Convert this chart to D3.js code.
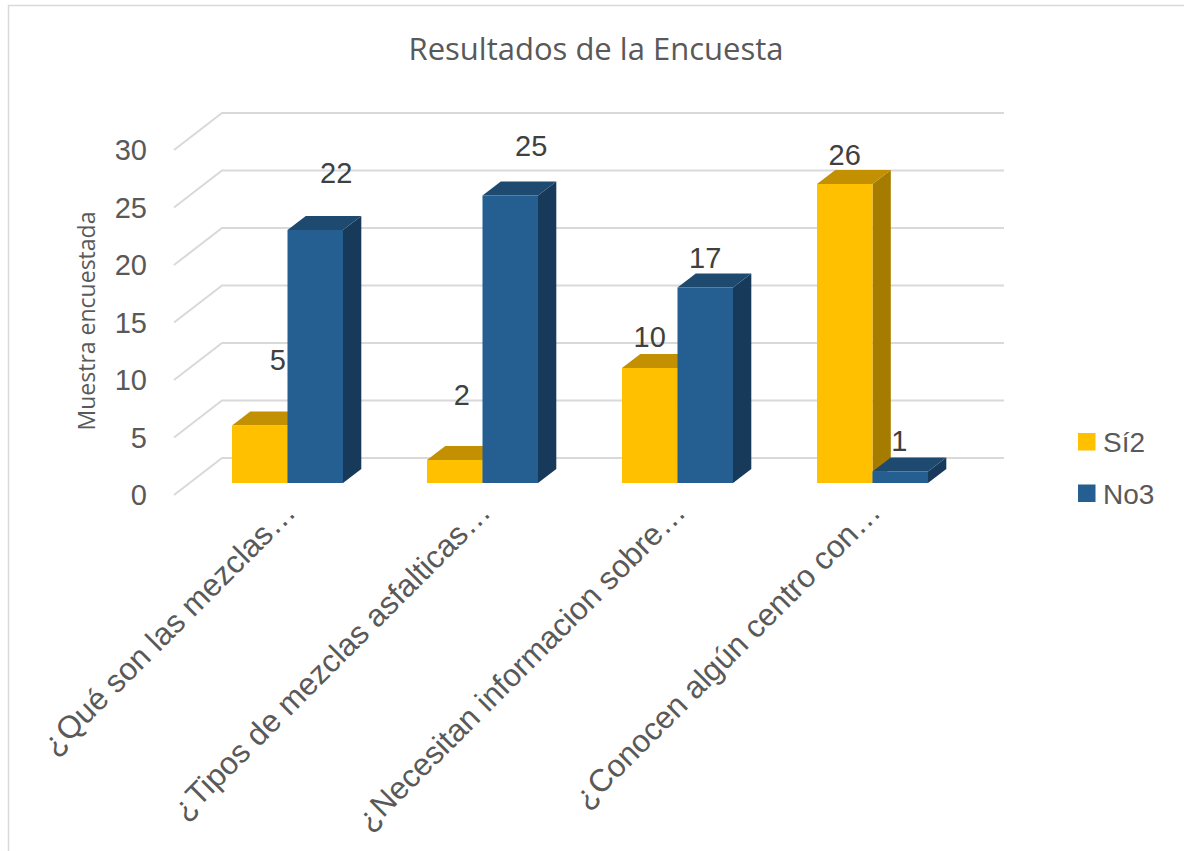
<!DOCTYPE html>
<html><head><meta charset="utf-8">
<script src="https://cdn.jsdelivr.net/npm/d3@7"></script>
<style>html,body{margin:0;padding:0;background:#fff;overflow:hidden}</style>
</head><body>
<svg id="chart" width="1184" height="851"></svg>
<script>
const categories = ["¿Qué son las mezclas…", "¿Tipos de mezclas asfalticas…", "¿Necesitan informacion sobre…", "¿Conocen algún centro con…"];
const seriesNames = ["Sí2", "No3"];
const siValues = [5, 2, 10, 26];
const noValues = [22, 25, 17, 1];
const yTicks = [0, 5, 10, 15, 20, 25, 30];
const chartTitle = "Resultados de la Encuesta";
const yTitle = "Muestra encuestada";

// styling only: label nudges (Excel 3D label placement)
const labelShift = [
  [[18, -66], [21, -57]],
  [[7, -65], [21, -50]],
  [[0, -31], [0, -30]],
  [[0, -29], [-1, -31]]
];

const svg = d3.select("#chart");
svg.append("rect").attr("x", 0).attr("y", 0).attr("width", 1184).attr("height", 851).attr("fill", "#fff");
svg.append("rect").attr("x", 8.5).attr("y", 5.5).attr("width", 1300).attr("height", 1000)
  .attr("fill", "none").attr("stroke", "#d9d9d9").attr("stroke-width", 1.5);

const colors = {
  "Sí2": {front: "#FFC000", top: "#C29000", side: "#A67C00"},
  "No3": {front: "#255E91", top: "#1E4A70", side: "#183A5A"}
};

const x = d3.scaleBand().domain(categories).range([190, 970]).paddingInner(0.4308).paddingOuter(0.2154);
const xs = d3.scaleBand().domain(seriesNames).range([0, x.bandwidth()]);
const y = d3.scaleLinear().domain([0, 30]).range([483, 138]);
const yWall = d3.scaleLinear().domain([0, 30]).range([495, 150]);
const wallDx = 48, wallDy = -37, wallRight = 1004;
const bdx = 18.3, bdy = -14;

// gridlines (side wall diagonal + back wall horizontal)
const grid = svg.append("g");
yTicks.forEach(v => {
  const y0 = yWall(v);
  grid.append("path")
    .attr("d", `M174,${y0} L${174 + wallDx},${y0 + wallDy} L${wallRight},${y0 + wallDy}`)
    .attr("fill", "none").attr("stroke", "#d9d9d9").attr("stroke-width", 2);
});

// tick labels
svg.append("g").selectAll("text").data(yTicks).join("text")
  .attr("x", 147).attr("y", d => yWall(d)).attr("dy", "0.36em")
  .attr("text-anchor", "end").attr("font-family", "Liberation Sans, Arial, sans-serif")
  .attr("font-size", 29).attr("fill", "#595959").text(d => d);

// y title
svg.append("text").attr("transform", "translate(95,321) rotate(-90)")
  .attr("text-anchor", "middle").attr("font-family", "Open Sans, sans-serif")
  .attr("font-size", 23).attr("fill", "#595959").text(yTitle);

// title
svg.append("text").attr("x", 596).attr("y", 60).attr("text-anchor", "middle")
  .attr("font-family", "Open Sans, sans-serif").attr("font-size", 31).attr("fill", "#595959")
  .text(chartTitle);

// bars
const rows = categories.map((c, i) => ({cat: c, i, vals: [siValues[i], noValues[i]]}));
const barsG = svg.append("g");
rows.forEach(r => {
  seriesNames.forEach((s, j) => {
    const v = r.vals[j];
    const x0 = x(r.cat) + xs(s), x1 = x0 + xs.bandwidth();
    const yt = y(v), yb = y(0);
    const c = colors[s];
    const g = barsG.append("g");
    g.append("path").attr("d", `M${x1},${yt} L${x1 + bdx},${yt + bdy} L${x1 + bdx},${yb + bdy} L${x1},${yb} Z`).attr("fill", c.side);
    g.append("path").attr("d", `M${x0},${yt} L${x0 + bdx},${yt + bdy} L${x1 + bdx},${yt + bdy} L${x1},${yt} Z`).attr("fill", c.top);
    g.append("rect").attr("x", x0).attr("y", yt).attr("width", x1 - x0).attr("height", yb - yt).attr("fill", c.front);
  });
});

// value labels
rows.forEach(r => {
  seriesNames.forEach((s, j) => {
    const v = r.vals[j];
    const cx = x(r.cat) + xs(s) + xs.bandwidth() / 2;
    const sh = labelShift[r.i][j];
    svg.append("text").attr("x", cx + sh[0]).attr("y", y(v) + sh[1]).attr("dy", "0.36em")
      .attr("text-anchor", "middle").attr("font-family", "Liberation Sans, Arial, sans-serif")
      .attr("font-size", 29).attr("fill", "#404040").text(v);
  });
});

// category labels
svg.append("g").selectAll("text").data(categories).join("text")
  .attr("transform", d => `translate(${x(d) + x.bandwidth() / 2 + 10},514) rotate(-45)`)
  .attr("text-anchor", "end").attr("font-family", "Liberation Sans, Arial, sans-serif")
  .attr("font-size", 31.5).attr("fill", "#595959").text(d => d);

// legend
const leg = svg.append("g");
seriesNames.forEach((s, j) => {
  const ly = 442 + j * 51.5;
  leg.append("rect").attr("x", 1078).attr("y", ly - 9).attr("width", 17.5).attr("height", 17.5).attr("fill", colors[s].front);
  leg.append("text").attr("x", 1103).attr("y", ly).attr("dy", "0.36em")
    .attr("font-family", "Liberation Sans, Arial, sans-serif").attr("font-size", 28).attr("fill", "#595959").text(s);
});
</script>
</body></html>
